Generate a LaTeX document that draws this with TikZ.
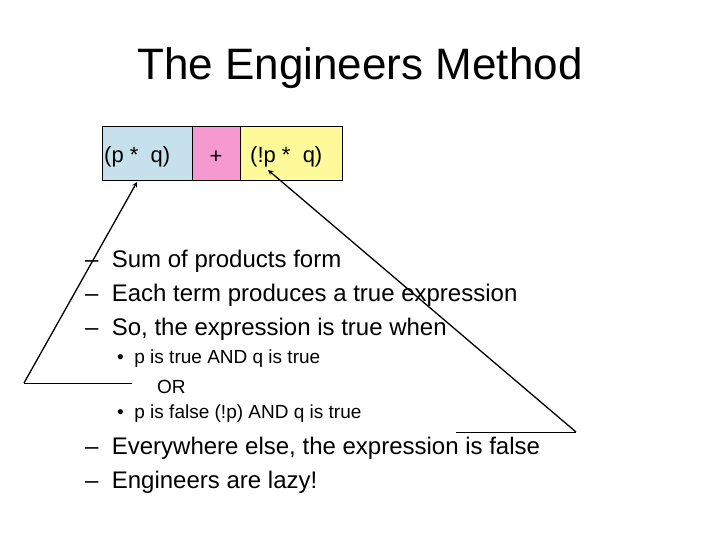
\documentclass[tikz,border=0pt]{standalone}
\usepackage{fontspec}
\setmainfont{Liberation Sans}
\begin{document}
\begin{tikzpicture}[x=1pt,y=-1pt,
  box/.style={draw, thin, inner sep=0pt, anchor=north west},
  txt/.style={anchor=west, inner sep=0pt, font=\fontsize{24}{28}\selectfont},
  stxt/.style={anchor=west, inner sep=0pt, font=\fontsize{19}{22}\selectfont},
  arr/.style={-stealth, line width=1.3pt}]
\useasboundingbox (0,0) rectangle (720,540);
\node[anchor=center, font=\fontsize{44}{50}\selectfont] (title) at (360,68) {The Engineers Method};
\node[box, fill=cyan!20!white!85!gray, minimum width=90pt, minimum height=54pt] (b1) at (102,126) {};
\node[box, fill=magenta!40, minimum width=48pt, minimum height=54pt] (b2) at (192,126) {};
\node[box, fill=yellow!40, minimum width=102pt, minimum height=54pt] (b3) at (240,126) {};
\node[anchor=west, inner sep=0pt, font=\fontsize{22}{26}\selectfont] (t1) at (104,157) {(p *\ \ q)};
\node[anchor=center, inner sep=0pt, font=\fontsize{22}{26}\selectfont] (t2) at (216,157) {+};
\node[anchor=west, inner sep=0pt, font=\fontsize{22}{26}\selectfont] (t3) at (250,157) {(!p *\ \ q)};
\node[txt] (l1) at (85,261) {–\ \ Sum of products form};
\node[txt] (l2) at (85,295) {–\ \ Each term produces a true expression};
\node[txt] (l3) at (85,329) {–\ \ So, the expression is true when};
\node[stxt] (s1) at (117,359) {•\ \ p is true AND q is true};
\node[stxt] (s2) at (157,387) {OR};
\node[stxt] (s3) at (117,414) {•\ \ p is false (!p) AND q is true};
\node[txt] (l4) at (85,448) {–\ \ Everywhere else, the expression is false};
\node[txt] (l5) at (85,482) {–\ \ Engineers are lazy!};
\coordinate (la) at (132,383);
\coordinate (lb) at (24,383);
\coordinate (lt) at (137,182);
\coordinate (ra) at (456,432);
\coordinate (rb) at (576,432);
\coordinate (rt) at (268,170);
\draw[thin] (la) -- (lb);
\draw[arr] (lb) -- (lt);
\draw[thin] (ra) -- (rb);
\draw[arr] (rb) -- (rt);
\end{tikzpicture}
\end{document}
